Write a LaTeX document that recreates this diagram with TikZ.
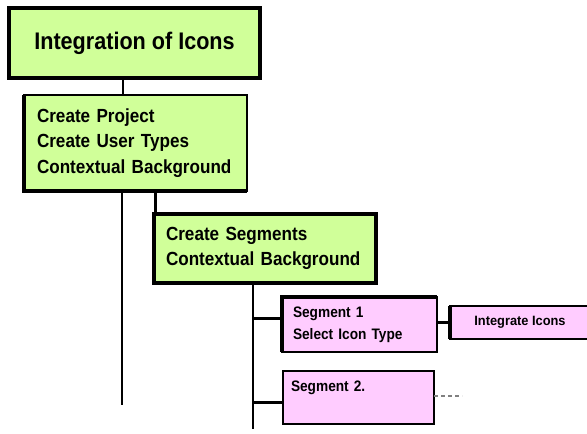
\documentclass[tikz,border=0pt]{standalone}
\usepackage{fontspec}
\setmainfont{Liberation Sans}
\newfontfamily\narrowA{Liberation Sans}[FakeStretch=0.9]
\newfontfamily\narrowB{Liberation Sans}[FakeStretch=0.95]
\definecolor{boxgreen}{RGB}{208,255,153}
\definecolor{boxpink}{RGB}{255,204,255}
\begin{document}
\begin{tikzpicture}[x=1pt,y=-1pt,
  basebox/.style={draw=black, anchor=north west, outer sep=0pt, inner ysep=0pt, align=left},
  gbox/.style={basebox, fill=boxgreen},
  pbox/.style={basebox, fill=boxpink},
  bigtext/.style={font=\narrowA\fontsize{19}{25.5}\selectfont\bfseries},
  smalltext/.style={font=\narrowA\fontsize{15.2}{22}\selectfont\bfseries},
  conn/.style={line width=2pt},
  thinconn/.style={line width=1.5pt},
  thickconn/.style={line width=3pt},
  edge3/.style={line width=3.5pt}]
\useasboundingbox (0,0) rectangle (587,434);

% title
\node[gbox, line width=3.5pt, minimum width=251pt, minimum height=70pt, align=center,
      font=\narrowA\fontsize{24}{28}\selectfont\bfseries] (t1) at (9,8) {Integration of Icons};

% level 2
\node[gbox, bigtext, line width=1.5pt, minimum width=223pt, minimum height=96pt,
      inner xsep=13pt, text width=197pt] (b2) at (24,95)
  {Create Project\\Create User Types\\Contextual Background};
\draw[edge3] (b2.north west) -- (b2.south west) -- (b2.south east);

% level 3
\node[gbox, bigtext, line width=3.5pt, minimum width=222pt, minimum height=69pt,
      inner xsep=12pt, text width=198pt] (b3) at (154,214)
  {Create Segments\\Contextual Background};

% segments
\node[pbox, smalltext, line width=1.5pt, minimum width=155pt, minimum height=55pt,
      inner xsep=11pt, text width=133pt] (s1) at (282,297)
  {Segment 1\\Select Icon Type};
\draw[edge3] (s1.south west) -- (s1.north west) -- (s1.north east);

\node[pbox, smalltext, line width=1.5pt, minimum width=151pt, minimum height=53pt,
      inner xsep=8pt, text width=135pt] (s2) at (283,371)
  {Segment 2.\\\mbox{}};
\draw[line width=2.5pt] (s2.south west) -- (s2.north west);

\node[pbox, line width=2pt, minimum width=140pt, minimum height=33pt, align=center,
      font=\narrowB\fontsize{13.5}{15}\selectfont\bfseries] (ii) at (450,306) {Integrate Icons};
\draw[line width=3.5pt] (ii.south west) -- (ii.north west);

% connectors
\coordinate (e1) at (122,405);
\coordinate (e2) at (253,429);
\coordinate (e3) at (462,396);
\draw[conn] (t1.south west -| 123,0) -- (b2.north west -| 123,0);
\draw[conn] (b2.south west -| e1) -- (e1);
\draw[thickconn] (b2.south west -| 155.5,0) -- (b3.north west -| 155.5,0);
\draw[thinconn] (b3.south west -| e2) -- (e2);
\draw[thickconn] ([yshift=6.5pt]s1.west -| e2) -- ([yshift=6.5pt]s1.west);
\draw[thickconn] ([yshift=-4.5pt]s2.west -| e2) -- ([yshift=-4.5pt]s2.west);
\draw[thickconn] (s1.east |- ii.west) -- (ii.west);
\draw[line width=1.5pt, gray, dash pattern=on 4pt off 3pt] (s2.east |- e3) -- (e3);
\end{tikzpicture}
\end{document}
